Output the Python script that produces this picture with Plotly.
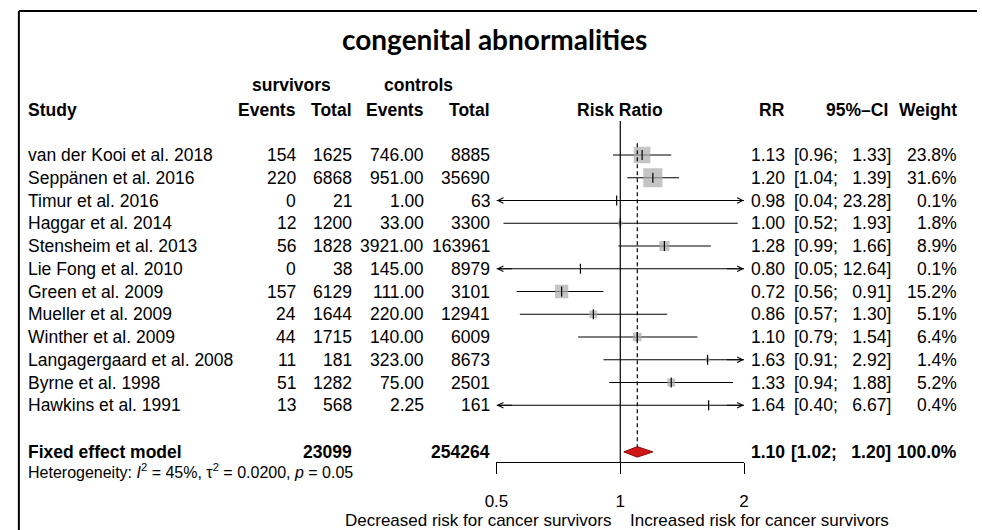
import numpy as np
import plotly.graph_objects as go

# ---------------- data ----------------
studies = ["van der Kooi et al. 2018", "Seppänen et al. 2016", "Timur et al. 2016",
           "Haggar et al. 2014", "Stensheim et al. 2013", "Lie Fong et al. 2010",
           "Green et al. 2009", "Mueller et al. 2009", "Winther et al. 2009",
           "Langagergaard et al. 2008", "Byrne et al. 1998", "Hawkins et al. 1991"]
events_surv = [154, 220, 0, 12, 56, 0, 157, 24, 44, 11, 51, 13]
total_surv = [1625, 6868, 21, 1200, 1828, 38, 6129, 1644, 1715, 181, 1282, 568]
events_ctrl = [746.00, 951.00, 1.00, 33.00, 3921.00, 145.00, 111.00, 220.00, 140.00, 323.00, 75.00, 2.25]
total_ctrl = [8885, 35690, 63, 3300, 163961, 8979, 3101, 12941, 6009, 8673, 2501, 161]
rr = [1.13, 1.20, 0.98, 1.00, 1.28, 0.80, 0.72, 0.86, 1.10, 1.63, 1.33, 1.64]
ci_low = [0.96, 1.04, 0.04, 0.52, 0.99, 0.05, 0.56, 0.57, 0.79, 0.91, 0.94, 0.40]
ci_high = [1.33, 1.39, 23.28, 1.93, 1.66, 12.64, 0.91, 1.30, 1.54, 2.92, 1.88, 6.67]
weight = [23.8, 31.6, 0.1, 1.8, 8.9, 0.1, 15.2, 5.1, 6.4, 1.4, 5.2, 0.4]

fixed_label = "Fixed effect model"
fixed_total_surv = 23099
fixed_total_ctrl = 254264
fixed_rr = 1.10
fixed_low = 1.02
fixed_high = 1.20
fixed_weight = 100.0

heterogeneity = "Heterogeneity: <i>I</i><sup>2</sup> = 45%, τ<sup>2</sup> = 0.0200, <i>p</i> = 0.05"
tick_vals = [0.5, 1, 2]
tick_text = ["0.5", "1", "2"]
x_min, x_max = 0.5, 2.0

# ---------------- layout helpers ----------------
W, H = 982, 530
ROW0, ROWH = 155.0, 22.75
def px(x):
    return x / W
def py(y):
    return 1 - y / H

FONT = "Liberation Sans, Arial, sans-serif"
FS = 17.5
n = len(studies)
row_y = [-k for k in range(n)]
fixed_y = -13.05

fig = go.Figure()

# CI lines (clipped to axis range)
for k in range(n):
    lo_c = max(ci_low[k], x_min)
    hi_c = min(ci_high[k], x_max)
    fig.add_trace(go.Scatter(x=[lo_c, hi_c], y=[row_y[k], row_y[k]], mode="lines",
                             line=dict(color="black", width=1.1), hoverinfo="skip",
                             cliponaxis=False))

# squares (area proportional to weight)
fig.add_trace(go.Scatter(x=rr, y=row_y, mode="markers",
                         marker=dict(symbol="square", size=[3.4 * np.sqrt(w) for w in weight],
                                     color="#ababab", line=dict(width=0)),
                         hoverinfo="skip"))
# point estimate ticks
fig.add_trace(go.Scatter(x=rr, y=row_y, mode="markers",
                         marker=dict(symbol="line-ns", size=7, line=dict(color="black", width=1.2)),
                         hoverinfo="skip"))

# diamond
fig.add_trace(go.Scatter(x=[fixed_low, fixed_rr, fixed_high, fixed_rr, fixed_low],
                         y=[fixed_y, fixed_y + 0.23, fixed_y, fixed_y - 0.23, fixed_y],
                         mode="lines", fill="toself", fillcolor="#d01818",
                         line=dict(color="#8a0000", width=1), hoverinfo="skip"))

ann = []
# arrows for CIs beyond range
for k in range(n):
    if ci_high[k] > x_max:
        ann.append(dict(x=np.log10(x_max * 0.999), y=row_y[k], ax=np.log10(x_max * 0.9), ay=row_y[k],
                        xref="x", yref="y", axref="x", ayref="y", text="", showarrow=True,
                        arrowhead=5, arrowsize=1.1, arrowwidth=1, arrowcolor="black"))
    if ci_low[k] < x_min:
        ann.append(dict(x=np.log10(x_min * 1.001), y=row_y[k], ax=np.log10(x_min * 1.1), ay=row_y[k],
                        xref="x", yref="y", axref="x", ayref="y", text="", showarrow=True,
                        arrowhead=5, arrowsize=1.1, arrowwidth=1, arrowcolor="black"))

def txt(text, x, y, anchor="right", size=FS, bold=False, yref="y", family=FONT):
    ann.append(dict(text=("<b>%s</b>" % text) if bold else text, x=px(x), y=y, xref="paper", yref=yref,
                    xanchor=anchor, yanchor="middle", align=anchor, showarrow=False,
                    borderpad=0, borderwidth=0,
                    font=dict(family=family, size=size, color="black")))

def fmt_ci(lo, hi):
    pad = "" if hi >= 10 else " \u00a0"
    return "[%.2f;%s %.2f]" % (lo, pad, hi)

# rows
for k in range(n):
    y = row_y[k]
    txt(studies[k], 16, y, "left")
    txt(str(events_surv[k]), 289, y)
    txt(str(total_surv[k]), 346, y)
    txt("%.2f" % events_ctrl[k], 419, y)
    txt(str(total_ctrl[k]), 486, y)
    txt("%.2f" % rr[k], 787, y)
    txt(fmt_ci(ci_low[k], ci_high[k]), 894, y)
    txt("%.1f%%" % weight[k], 962, y)

# fixed effect row
txt(fixed_label, 16, fixed_y, "left", bold=True)
txt(str(fixed_total_surv), 346, fixed_y, bold=True)
txt(str(fixed_total_ctrl), 486, fixed_y, bold=True)
txt("%.2f" % fixed_rr, 787, fixed_y, bold=True)
txt(fmt_ci(fixed_low, fixed_high), 894, fixed_y, bold=True)
txt("%.1f%%" % fixed_weight, 962, fixed_y, bold=True)

# heterogeneity
txt(heterogeneity, 16, py(471), "left", size=16, yref="paper")

# headers
hy = py(109.5)
txt("Study", 16, hy, "left", bold=True, yref="paper")
txt("Events", 289, hy, bold=True, yref="paper")
txt("Total", 346, hy, bold=True, yref="paper")
txt("Events", 419, hy, bold=True, yref="paper")
txt("Total", 486, hy, bold=True, yref="paper")
txt("Risk Ratio", 619, hy, "center", bold=True, yref="paper")
txt("RR", 787, hy, bold=True, yref="paper")
txt("95%–CI", 891, hy, bold=True, yref="paper")
txt("Weight", 962, hy, bold=True, yref="paper")
txt("survivors", 284, py(85), "center", bold=True, yref="paper")
txt("controls", 414, py(85), "center", bold=True, yref="paper")

# bottom labels
txt("Decreased risk for cancer survivors", 610, py(520), "right", size=17, yref="paper")
txt("Increased risk for cancer survivors", 629, py(520), "left", size=17, yref="paper")

# title
ann.append(dict(text="<b>congenital abnormalities</b>", x=px(491), y=py(39), xref="paper", yref="paper",
                xanchor="center", yanchor="middle", showarrow=False,
                font=dict(family="Lato, Carlito, sans-serif", size=28, color="black")))

shapes = [
    # reference line at RR = 1
    dict(type="line", xref="x", yref="y domain", x0=1, x1=1, y0=0, y1=1,
         line=dict(color="black", width=1.2)),
    # pooled estimate dashed line
    dict(type="line", xref="x", yref="y", x0=fixed_rr, x1=fixed_rr, y0=0.52, y1=fixed_y + 0.23,
         line=dict(color="black", width=1.2, dash="4px,3px")),
    # frame (left and top edges)
    dict(type="line", xref="paper", yref="paper", x0=px(7), x1=px(7), y0=0, y1=py(11),
         line=dict(color="black", width=2)),
    dict(type="line", xref="paper", yref="paper", x0=px(7), x1=1, y0=py(11), y1=py(11),
         line=dict(color="black", width=2)),
]

y_top = -(121 - ROW0) / ROWH
y_bot = -(462 - ROW0) / ROWH

fig.update_layout(
    width=W, height=H, margin=dict(l=0, r=0, t=0, b=0),
    paper_bgcolor="white", plot_bgcolor="white", showlegend=False,
    annotations=ann, shapes=shapes,
    xaxis=dict(type="log", domain=[px(493), px(745)], range=[np.log10(x_min), np.log10(x_max)],
               tickvals=tick_vals, ticktext=tick_text, ticks="outside", ticklen=11,
               tickwidth=1.2, tickcolor="black", showline=True, linecolor="black", linewidth=1.2,
               showgrid=False, zeroline=False, ticklabelstandoff=12,
               tickfont=dict(family=FONT, size=17, color="black"), fixedrange=True),
    yaxis=dict(domain=[py(462), py(121)], range=[y_bot, y_top], visible=False,
               showgrid=False, zeroline=False, fixedrange=True),
)

fig.write_html("out.html")
